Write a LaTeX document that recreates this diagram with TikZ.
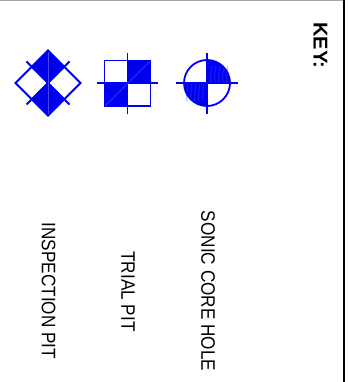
\documentclass[tikz,border=0pt]{standalone}
\usepackage{fontspec}
\setmainfont{Liberation Sans}
\definecolor{symblue}{RGB}{0,0,240}
\definecolor{thinblue}{RGB}{70,70,255}
\tikzset{
  sym/.style={draw=symblue,line width=1.8pt},
  solid fill/.style={fill=symblue,draw=symblue,line width=1.2pt},
  seam/.style={draw=thinblue,line width=0.4pt},
  hatch/.style={draw=thinblue,line width=0.4pt},
  lab/.style={rotate=-90,xscale=0.88,inner sep=0pt,font=\fontsize{19.5}{22}\selectfont,text=black},
  keylab/.style={rotate=-90,inner sep=0pt,font=\fontsize{20}{22}\selectfont\bfseries,text=black},
}
\begin{document}
\begin{tikzpicture}[x=1pt,y=-1pt]
\useasboundingbox (0,0) rectangle (348,382);
\fill[white] (0,0) rectangle (348,382);
\draw[gray!70,line width=1pt] (0,0.5) -- (343,0.5);
\draw[black,line width=2pt] (343.5,0) -- (343.5,382);
\node[keylab] (key) at (320.5,45.5) {KEY:};
% inspection pit
\coordinate (ic) at (48,83);
\draw[sym] (26.5,61.5) -- (69.5,104.5);
\draw[sym] (69.5,61.5) -- (26.5,104.5);
\draw[sym] (15.5,83) -- (48,50.5) -- (80.5,83) -- (48,115.5) -- cycle;
\fill[solid fill] (ic) -- (31.75,66.75) -- (48,50.5) -- (64.25,66.75) -- cycle;
\fill[solid fill] (ic) -- (31.75,99.25) -- (48,115.5) -- (64.25,99.25) -- cycle;
\draw[seam] (48,52) -- (48,114);
% trial pit
\coordinate (tc) at (127.5,83);
\draw[sym] (104.5,60.5) rectangle (150.5,106);
\fill[solid fill] (tc) rectangle (150.5,60.5);
\fill[solid fill] (tc) rectangle (104.5,106);
\draw[sym] (97,83) -- (158,83);
\draw[sym] (127.5,53) -- (127.5,114);
\draw[seam] (105,106) -- (150,61);
% sonic core hole
\coordinate (sc) at (207,83);
\fill[symblue] (sc) -- (230,83) arc[start angle=0,end angle=-90,radius=23] -- cycle;
\fill[symblue] (sc) -- (184,83) arc[start angle=180,end angle=90,radius=23] -- cycle;
\foreach \x in {211,215,219,223,227}{
  \draw[hatch] (\x,66) .. controls (\x+1,70) and (\x-1,75) .. (\x,82);
}
\foreach \x in {187,191,195,199,203}{
  \draw[hatch] (\x,84) .. controls (\x+1,90) and (\x-1,96) .. (\x,101);
}
\draw[sym] (sc) circle[radius=23];
\draw[sym] (176,83) -- (238,83);
\draw[sym] (207,53) -- (207,114);
% labels
\node[lab] (ipl) at (48.5,291) {INSPECTION PIT};
\node[lab] (tpl) at (128,291.5) {TRIAL PIT};
\node[lab] (scl) at (208,291) {SONIC CORE HOLE};
\end{tikzpicture}
\end{document}
